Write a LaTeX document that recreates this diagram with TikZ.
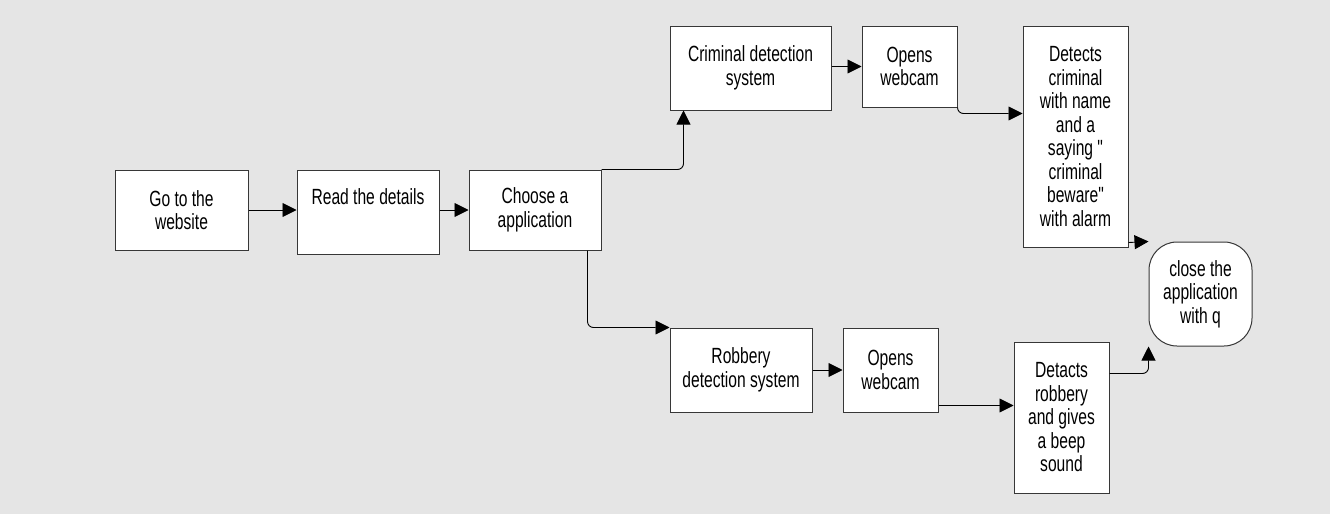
\documentclass[tikz,border=0pt]{standalone}
\usepackage{fontspec}
\setmainfont{Liberation Sans}[FakeStretch=0.71,Ligatures=TeXOff]
\usetikzlibrary{arrows.meta,calc}
\definecolor{bg}{RGB}{229,229,229}
\definecolor{edge}{RGB}{55,55,55}
\begin{document}
\begin{tikzpicture}[x=1pt,y=-1pt,
  box/.style={draw=edge, line width=1pt, fill=white, align=center,
    font=\fontsize{22}{23.5}\selectfont, inner sep=2pt},
  endbox/.style={box, rounded corners=28pt},
  conn/.style={draw=black, line width=0.9pt, rounded corners=6pt,
    -{Triangle[length=14pt,width=14pt]}}]
\path[fill=bg] (0,0) rectangle (1330,514);

\node[box, minimum width=133pt, minimum height=80pt] (go) at (181.5,210) {Go to the\\website};
\node[box, minimum width=142pt, minimum height=84pt, text depth=30pt] (read) at (368,212) {Read the details};
\node[box, minimum width=132pt, minimum height=80pt] (choose) at (535,210) {Choose a\\application};
\node[box, minimum width=161pt, minimum height=84pt] (crim) at (750.5,68) {Criminal detection\\system};
\node[box, minimum width=95pt, minimum height=81pt] (openA) at (909.5,66.5) {Opens\\webcam};
\node[box, minimum width=105pt, minimum height=221pt] (detc) at (1075.5,136.5) {Detects\\criminal\\with name\\and a\\saying "\\criminal\\beware"\\with alarm};
\node[box, minimum width=142pt, minimum height=84pt] (rob) at (741,370) {Robbery\\detection system};
\node[box, minimum width=95pt, minimum height=84pt] (openB) at (890.5,370) {Opens\\webcam};
\node[box, minimum width=95pt, minimum height=151pt] (detr) at (1061.5,417.5) {Detacts\\robbery\\and gives\\a beep\\sound};
\node[endbox, minimum width=103pt, minimum height=104pt] (close) at (1200.5,294) {close the\\application\\with q};

\coordinate (c1) at ($(crim.south west)+(14,0)$);
\coordinate (c2) at ($(choose.south east)+(-14,0)$);
\coordinate (c3) at ($(detc.north west)+(0,88)$);
\coordinate (c4) at ($(openB.south east)+(0,-7)$);
\coordinate (c5) at ($(detr.north east)+(0,32)$);
\coordinate (c6) at ($(detc.south east)+(0,-5)$);

\draw[conn] (go.east) -- (go.east -| read.west);
\draw[conn] (read.east |- choose.west) -- (choose.west);
\draw[conn] (choose.north east) -| (c1);
\draw[conn] (c2) |- (rob.north west);
\draw[conn] (crim.east |- openA.west) -- (openA.west);
\draw[conn] (openA.south east) |- (c3);
\draw[conn] (rob.east |- openB.west) -- (openB.west);
\draw[conn] (c4) -- (c4 -| detr.west);
\draw[conn] (c5) -| (close.south west);
\draw[conn] (c6) -- (close.north west);
\end{tikzpicture}
\end{document}
